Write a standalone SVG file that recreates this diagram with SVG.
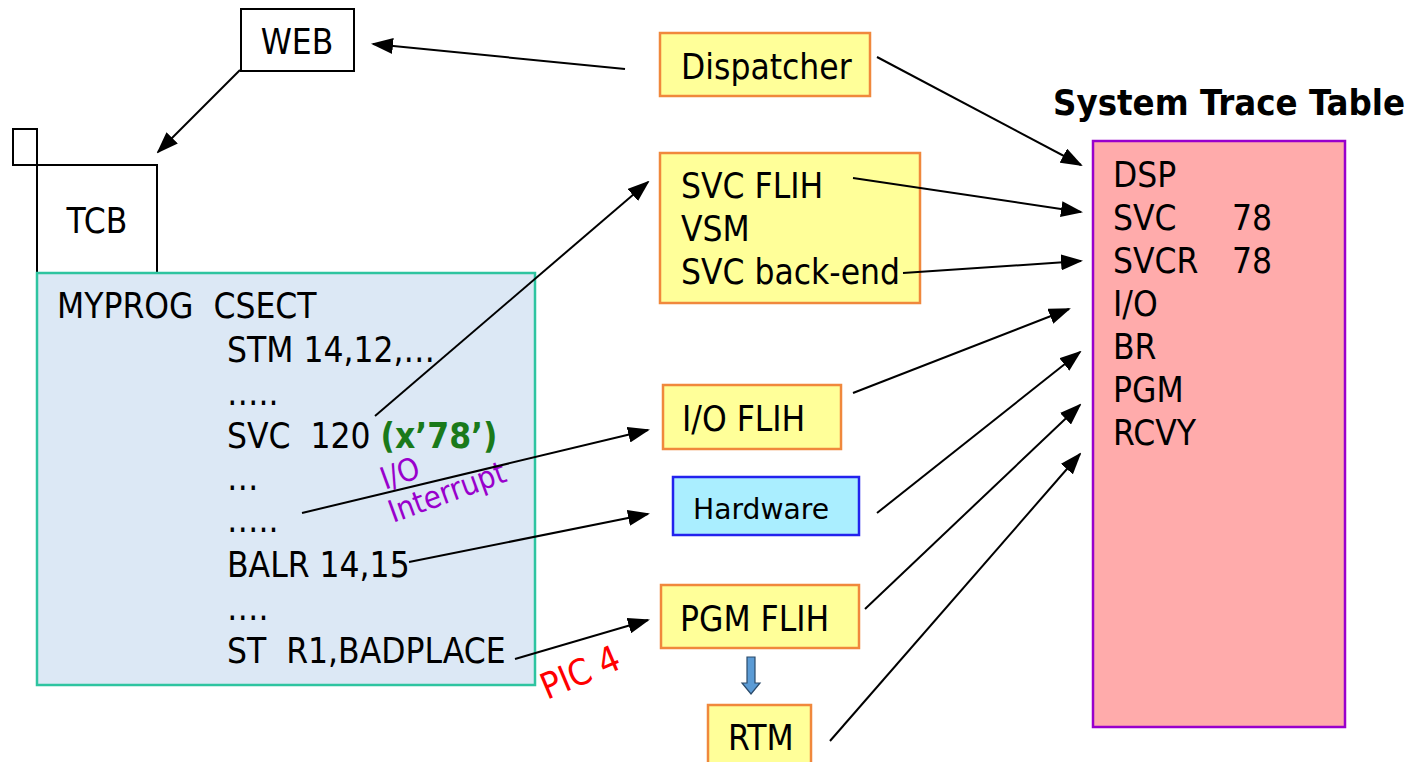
<svg xmlns="http://www.w3.org/2000/svg" width="1413" height="762" viewBox="0 0 1413 762">
  <style>
    text { font-family: "DejaVu Sans Condensed", "DejaVu Sans", sans-serif; font-size: 35px; fill: #000; }
    text.note-io { fill: #9900cc; font-size: 31px; }
    text.note-pic { fill: #ff0000; font-size: 36px; }
    text.title { font-weight: bold; font-size: 35px; }
    text.small { font-size: 28px; }
    tspan.hex { font-weight: bold; fill: #1a7a1a; }
    .plain { fill: #fff; stroke: #000; stroke-width: 2; }
    .yellow { fill: #ffff99; stroke: #f0883c; stroke-width: 2.5; }
    .conn { stroke: #000; stroke-width: 2; fill: none; }
    .arrow { marker-end: url(#head); }
  </style>
  <defs>
    <marker id="head" markerUnits="userSpaceOnUse" markerWidth="22" markerHeight="16" refX="20" refY="8" orient="auto">
      <path d="M0,0 L22,8 L0,16 Z" fill="#000"/>
    </marker>
  </defs>

  <!-- WEB -->
  <g id="web">
    <rect class="plain" x="241" y="9" width="113" height="62"/>
    <text x="297" y="54" text-anchor="middle">WEB</text>
  </g>

  <!-- TCB with its small tab -->
  <g id="tcb">
    <rect class="plain" x="13" y="129" width="24" height="36"/>
    <rect class="plain" x="37" y="165" width="120" height="108"/>
    <text x="97" y="233" text-anchor="middle">TCB</text>
  </g>

  <!-- program listing -->
  <g id="myprog">
    <rect x="37" y="273" width="498" height="412" fill="#dce8f5" stroke="#2ec4a0" stroke-width="2.5"/>
    <text x="57" y="318" xml:space="preserve">MYPROG  CSECT</text>
    <text x="227" y="362">STM 14,12,…</text>
    <text x="227" y="405">…..</text>
    <text x="227" y="448" xml:space="preserve">SVC  120 <tspan class="hex">(x’78’)</tspan></text>
    <text x="227" y="490">…</text>
    <text x="227" y="532">…..</text>
    <text x="227" y="577">BALR 14,15</text>
    <text x="227" y="620">….</text>
    <text x="227" y="663" xml:space="preserve">ST  R1,BADPLACE</text>
  </g>

  <!-- labels on connectors -->
  <g id="io-interrupt-label">
    <text class="note-io" x="385" y="490" transform="rotate(-20 385 490)">I/O</text>
    <text class="note-io" x="393" y="523" transform="rotate(-20 393 523)">Interrupt</text>
  </g>
  <g id="pic4-label">
    <text class="note-pic" x="547" y="700" transform="rotate(-23 547 700)">PIC 4</text>
  </g>

  <!-- handlers -->
  <g id="dispatcher">
    <rect class="yellow" x="660" y="33" width="210" height="63"/>
    <text x="681" y="79">Dispatcher</text>
  </g>
  <g id="svc-flih">
    <rect class="yellow" x="660" y="153" width="260" height="150"/>
    <text x="681" y="198">SVC FLIH</text>
    <text x="681" y="241">VSM</text>
    <text x="681" y="284">SVC back-end</text>
  </g>
  <g id="io-flih">
    <rect class="yellow" x="663" y="385" width="178" height="64"/>
    <text x="682" y="431">I/O FLIH</text>
  </g>
  <g id="hardware">
    <rect x="673" y="477" width="186" height="58" fill="#aaeeff" stroke="#2222ee" stroke-width="2.5"/>
    <text class="small" x="693" y="519" textLength="136" lengthAdjust="spacingAndGlyphs">Hardware</text>
  </g>
  <g id="pgm-flih">
    <rect class="yellow" x="661" y="585" width="198" height="63"/>
    <text x="680" y="631">PGM FLIH</text>
  </g>
  <g id="rtm">
    <rect class="yellow" x="708" y="705" width="103" height="62"/>
    <text x="728" y="750">RTM</text>
  </g>

  <!-- System Trace Table -->
  <g id="stt">
    <text class="title" x="1053" y="115" textLength="352" lengthAdjust="spacingAndGlyphs">System Trace Table</text>
    <rect x="1093" y="141" width="252" height="586" fill="#ffabab" stroke="#9900cc" stroke-width="2.5"/>
    <text x="1113" y="187">DSP</text>
    <text x="1113" y="230">SVC</text>
    <text x="1232" y="230">78</text>
    <text x="1113" y="273">SVCR</text>
    <text x="1232" y="273">78</text>
    <text x="1113" y="316">I/O</text>
    <text x="1113" y="359">BR</text>
    <text x="1113" y="402">PGM</text>
    <text x="1113" y="445">RCVY</text>
  </g>

  <!-- connectors -->
  <g id="connectors">
    <line class="conn arrow" x1="625" y1="69" x2="373" y2="44"/>
    <line class="conn arrow" x1="240" y1="70" x2="158" y2="152"/>
    <line class="conn arrow" x1="877" y1="57" x2="1081" y2="165"/>
    <line class="conn arrow" x1="853" y1="178" x2="1081" y2="212"/>
    <line class="conn arrow" x1="903" y1="273" x2="1081" y2="261"/>
    <line class="conn arrow" x1="853" y1="393" x2="1069" y2="309"/>
    <line class="conn arrow" x1="877" y1="513" x2="1080" y2="352"/>
    <line class="conn arrow" x1="865" y1="609" x2="1080" y2="405"/>
    <line class="conn arrow" x1="830" y1="741" x2="1080" y2="454"/>
    <line class="conn arrow" x1="375" y1="416" x2="648" y2="182"/>
    <line class="conn arrow" x1="302" y1="513" x2="648" y2="430"/>
    <line class="conn arrow" x1="409" y1="562" x2="648" y2="514"/>
    <line class="conn arrow" x1="515" y1="659" x2="648" y2="620"/>
    <!-- block arrow from PGM FLIH down to RTM -->
    <path d="M747,657 L755,657 L755,683 L760,683 L751,694 L742,683 L747,683 Z" fill="#5b9bd5" stroke="#2a4a6a" stroke-width="1.2"/>
  </g>
</svg>
